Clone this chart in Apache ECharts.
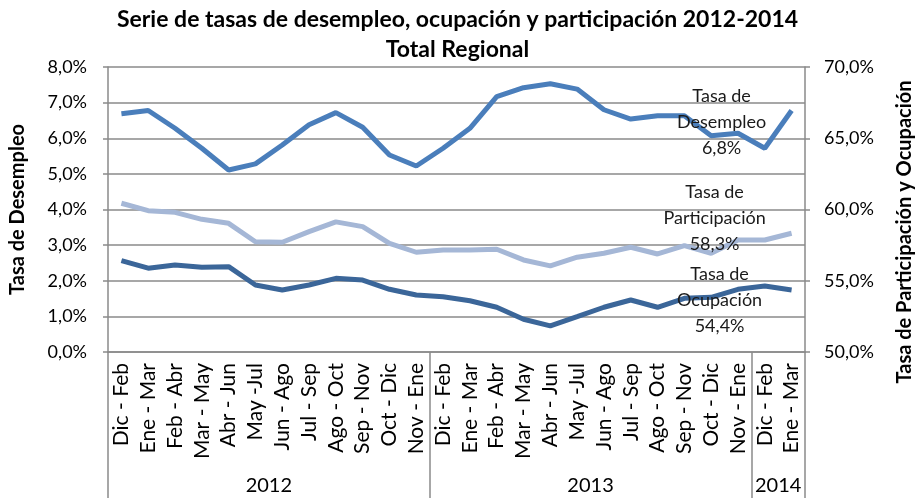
<!DOCTYPE html>
<html>
<head>
<meta charset="utf-8">
<script src="https://cdn.jsdelivr.net/npm/echarts@6/dist/echarts.min.js"></script>
<style>
  html, body { margin: 0; padding: 0; background: #fff; }
  #chart { width: 915px; height: 498px; }
</style>
</head>
<body>
<div id="chart"></div>
<script>
// periodos trimestrales moviles
const periods = [
  'Dic - Feb', 'Ene - Mar', 'Feb - Abr', 'Mar - May', 'Abr - Jun', 'May -Jul',
  'Jun - Ago', 'Jul - Sep', 'Ago - Oct', 'Sep - Nov', 'Oct - Dic', 'Nov - Ene',
  'Dic - Feb', 'Ene - Mar', 'Feb - Abr', 'Mar - May', 'Abr - Jun', 'May -Jul',
  'Jun - Ago', 'Jul - Sep', 'Ago - Oct', 'Sep - Nov', 'Oct - Dic', 'Nov - Ene',
  'Dic - Feb', 'Ene - Mar'
]
const years = ['2012', '2013', '2014']
const yearSpan = [12, 12, 2]

const desempleo = [6.69, 6.78, 6.28, 5.72, 5.11, 5.28, 5.81, 6.38, 6.72, 6.31, 5.53, 5.22,
  5.72, 6.28, 7.17, 7.42, 7.53, 7.38, 6.80, 6.54, 6.63, 6.63, 6.07, 6.14, 5.72, 6.78]
const participacion = [60.44, 59.92, 59.80, 59.31, 59.03, 57.74, 57.70, 58.45, 59.13, 58.80, 57.63, 57.00,
  57.16, 57.16, 57.21, 56.46, 56.04, 56.65, 56.93, 57.35, 56.88, 57.46, 56.93, 57.86, 57.86, 58.33]
const ocupacion = [56.41, 55.88, 56.11, 55.95, 55.99, 54.70, 54.35, 54.70, 55.17, 55.05, 54.40, 54.00,
  53.88, 53.60, 53.14, 52.30, 51.83, 52.48, 53.14, 53.65, 53.14, 53.77, 53.84, 54.40, 54.63, 54.35]

const leftTicks = { min: 0, max: 8, interval: 1 }
const rightTicks = { min: 50, max: 70, interval: 5 }

const fontFamily = 'Lato, "Noto Sans", sans-serif'
const gridColor = '#8a8a8a'

// limites y centros de los grupos de años
const yearBounds = [0]
const yearCenters = []
yearSpan.forEach((n, i) => {
  yearCenters.push(yearBounds[i] + n / 2)
  yearBounds.push(yearBounds[i] + n)
})

const pct = v => v.toFixed(1).replace('.', ',') + '%'

// etiqueta solo en el ultimo punto
function lastLabel(data, title, offset) {
  return data.map((v, i) => {
    if (i !== data.length - 1) return v
    return {
      value: v,
      label: {
        show: true,
        position: 'inside',
        offset: offset,
        align: 'center',
        verticalAlign: 'middle',
        formatter: title + '\n' + pct(v),
        fontFamily: fontFamily,
        fontSize: 18,
        lineHeight: 26,
        color: '#1a1a1a'
      }
    }
  })
}

const chart = echarts.init(document.getElementById('chart'))

const option = {
  animation: false,
  title: {
    text: 'Serie de tasas de desempleo, ocupación y participación 2012-2014\nTotal Regional',
    left: 'center',
    top: 0,
    textStyle: {
      fontFamily: fontFamily,
      fontSize: 23,
      fontWeight: 'bold',
      lineHeight: 30,
      color: '#000'
    }
  },
  grid: { left: 106, right: 110, top: 67, bottom: 146 },
  xAxis: [
    {
      type: 'category',
      data: periods,
      boundaryGap: true,
      axisLine: { lineStyle: { color: gridColor, width: 1.5 } },
      axisTick: { show: false },
      axisLabel: {
        rotate: 90,
        interval: 0,
        margin: 11,
        fontFamily: fontFamily,
        fontSize: 21,
        color: '#000'
      }
    },
    {
      type: 'value',
      position: 'bottom',
      min: 0,
      max: yearBounds[yearBounds.length - 1],
      axisLine: { show: false },
      splitLine: { show: false },
      axisTick: {
        show: true,
        customValues: yearBounds,
        length: 146,
        lineStyle: { color: gridColor, width: 1.5 }
      },
      axisLabel: {
        customValues: yearCenters,
        margin: 124,
        fontFamily: fontFamily,
        fontSize: 20,
        color: '#000',
        formatter: v => years[yearCenters.indexOf(v)] || ''
      }
    }
  ],
  yAxis: [
    {
      type: 'value',
      position: 'left',
      min: leftTicks.min,
      max: leftTicks.max,
      interval: leftTicks.interval,
      name: 'Tasa de Desempleo',
      nameLocation: 'middle',
      nameRotate: 90,
      nameGap: 80,
      nameTextStyle: {
        fontFamily: fontFamily,
        fontSize: 20,
        fontWeight: 'bold',
        color: '#000'
      },
      axisLine: { show: true, lineStyle: { color: gridColor, width: 1.5 } },
      axisTick: { show: true, length: 5, lineStyle: { color: gridColor, width: 1.5 } },
      splitLine: { lineStyle: { color: gridColor, width: 1.5 } },
      axisLabel: {
        margin: 21,
        fontFamily: fontFamily,
        fontSize: 18,
        color: '#000',
        formatter: pct
      }
    },
    {
      type: 'value',
      position: 'right',
      min: rightTicks.min,
      max: rightTicks.max,
      interval: rightTicks.interval,
      axisLine: { show: true, lineStyle: { color: gridColor, width: 1.5 } },
      axisTick: { show: true, length: 5, lineStyle: { color: gridColor, width: 1.5 } },
      splitLine: { show: false },
      axisLabel: {
        margin: 19,
        fontFamily: fontFamily,
        fontSize: 18,
        color: '#000',
        formatter: pct
      }
    }
  ],
  graphic: [
    {
      type: 'text',
      x: 905,
      y: 232,
      rotation: Math.PI / 2,
      style: {
        text: 'Tasa de Participación y Ocupación',
        fontFamily: fontFamily,
        fontSize: 20,
        fontWeight: 'bold',
        fill: '#000',
        align: 'center',
        verticalAlign: 'middle'
      }
    }
  ],
  series: [
    {
      name: 'Tasa de Desempleo',
      type: 'line',
      yAxisIndex: 0,
      data: lastLabel(desempleo, 'Tasa de\nDesempleo', [-70, 12]),
      showSymbol: true,
      symbol: 'circle',
      symbolSize: 0,
      lineStyle: { color: '#4a7ebb', width: 5 },
      itemStyle: { color: '#4a7ebb' },
      z: 3
    },
    {
      name: 'Tasa de Participación',
      type: 'line',
      yAxisIndex: 1,
      data: lastLabel(participacion, 'Tasa de\nParticipación', [-77, -15]),
      showSymbol: true,
      symbol: 'circle',
      symbolSize: 0,
      lineStyle: { color: '#a5b7d6', width: 5 },
      itemStyle: { color: '#a5b7d6' },
      z: 3
    },
    {
      name: 'Tasa de Ocupación',
      type: 'line',
      yAxisIndex: 1,
      data: lastLabel(ocupacion, 'Tasa de\nOcupación', [-72, 10]),
      showSymbol: true,
      symbol: 'circle',
      symbolSize: 0,
      lineStyle: { color: '#3b6699', width: 5 },
      itemStyle: { color: '#3b6699' },
      z: 3
    }
  ]
}

chart.setOption(option)
</script>
</body>
</html>
